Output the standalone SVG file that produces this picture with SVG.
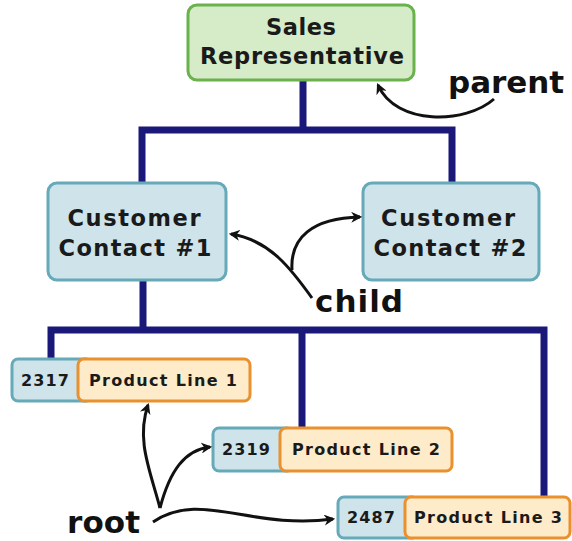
<svg xmlns="http://www.w3.org/2000/svg" width="572" height="541" viewBox="0 0 572 541">
<defs>
<style>
.t{font-family:"DejaVu Sans","Verdana",sans-serif;font-weight:bold;fill:#1a1a1a;text-anchor:middle}
.big{font-size:22.5px}
.sm{font-size:16px}
.lbl{font-family:"DejaVu Sans","Verdana",sans-serif;font-weight:bold;font-size:31px;fill:#111}
.green{fill:#d6ebc8;stroke:#69b24c;stroke-width:3}
.blue{fill:#cfe3eb;stroke:#66a9b9;stroke-width:3}
.orange{fill:#fdebc9;stroke:#e9902f;stroke-width:3}
.conn{stroke:#1a197a;stroke-width:7;fill:none}
.arr{stroke:#111;stroke-width:3;fill:none;marker-end:url(#ah)}
</style>
<marker id="ah" viewBox="0 0 10 10" refX="8" refY="5" markerWidth="11" markerHeight="11" markerUnits="userSpaceOnUse" orient="auto">
<path d="M0,0 L10,5 L0,10 L3,5 Z" fill="#111"/>
</marker>
</defs>
<rect width="572" height="541" fill="#ffffff"/>

<g id="connectors">
<path class="conn" d="M303 80 V130 M142 186 V130 H452 V186"/>
<path class="conn" d="M143 280 V330 M51 361 V330 H544 V499 M302 330 V430"/>
</g>

<g id="sales-rep">
<rect class="green" x="188" y="5" width="226" height="75" rx="9"/>
<text class="t big" x="301" y="35" textLength="70" lengthAdjust="spacing">Sales</text>
<text class="t big" x="302" y="64" textLength="204" lengthAdjust="spacing">Representative</text>
</g>

<g id="contact1">
<rect class="blue" x="48" y="183" width="178" height="97" rx="9"/>
<text class="t big" x="134" y="226" textLength="133" lengthAdjust="spacing">Customer</text>
<text class="t big" x="135" y="256" textLength="153" lengthAdjust="spacing">Contact #1</text>
</g>

<g id="contact2">
<rect class="blue" x="363" y="183" width="176" height="97" rx="9"/>
<text class="t big" x="448" y="226" textLength="134" lengthAdjust="spacing">Customer</text>
<text class="t big" x="450" y="256" textLength="153" lengthAdjust="spacing">Contact #2</text>
</g>

<g id="product1">
<rect class="blue" x="12" y="359" width="80" height="42" rx="6"/>
<rect class="orange" x="78" y="359" width="172" height="42" rx="6"/>
<text class="t sm" x="45" y="386" textLength="48" lengthAdjust="spacing">2317</text>
<text class="t sm" x="163" y="386" textLength="148" lengthAdjust="spacing">Product Line 1</text>
</g>

<g id="product2">
<rect class="blue" x="213" y="428" width="80" height="43" rx="6"/>
<text class="t sm" x="246" y="455" textLength="48" lengthAdjust="spacing">2319</text>
<rect class="orange" x="280" y="428" width="172" height="43" rx="6"/>
<text class="t sm" x="366" y="455" textLength="148" lengthAdjust="spacing">Product Line 2</text>
</g>

<g id="product3">
<rect class="blue" x="338" y="497" width="80" height="41" rx="6"/>
<text class="t sm" x="371" y="523" textLength="48" lengthAdjust="spacing">2487</text>
<rect class="orange" x="405" y="497" width="165" height="41" rx="6"/>
<text class="t sm" x="488" y="523" textLength="148" lengthAdjust="spacing">Product Line 3</text>
</g>

<g id="annotations">
<text class="lbl" x="448" y="93" textLength="116" lengthAdjust="spacing">parent</text>
<text class="lbl" x="315" y="312" textLength="88" lengthAdjust="spacing">child</text>
<text class="lbl" x="67" y="533" textLength="73" lengthAdjust="spacing">root</text>
<path class="arr" d="M494 99 C466 124 396 126 378 85"/>
<path class="arr" d="M312 298 C292 270 270 240 231 234"/>
<path class="arr" d="M292 270 C290 238 312 218 360 217"/>
<path class="arr" d="M160 508 C150 470 136 440 148 405"/>
<path class="arr" d="M160 508 C170 470 185 450 210 447"/>
<path class="arr" d="M153 522 C200 490 250 530 333 519"/>
</g>
</svg>
